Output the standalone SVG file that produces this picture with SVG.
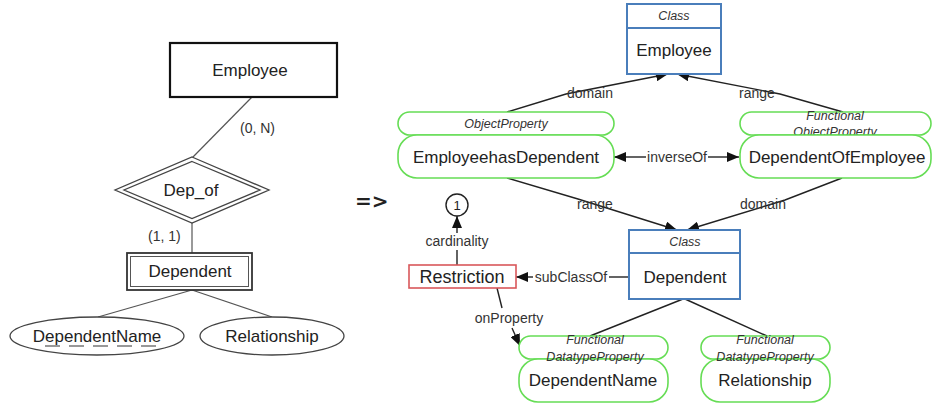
<svg xmlns="http://www.w3.org/2000/svg" width="933" height="408" viewBox="0 0 933 408">
  <style>
    text { font-family: "Liberation Sans", Arial, sans-serif; fill: #222; }
    .big { font-size: 17px; text-anchor: middle; dominant-baseline: central; }
    .card { font-size: 14px; fill: #333; dominant-baseline: central; }
    .lbl { font-size: 14px; fill: #333; text-anchor: middle; dominant-baseline: central; }
    .type { font-size: 12.5px; font-style: italic; text-anchor: middle; dominant-baseline: central; fill: #333; }
    .er { fill: #fff; stroke: #444; stroke-width: 1.3; }
    .erl { fill: none; stroke: #555; stroke-width: 1.2; }
    .cls { fill: #fff; stroke: #4a7ebb; stroke-width: 2; }
    .prop { fill: #fff; stroke: #66dd55; stroke-width: 1.6; }
    .restr { fill: #fff; stroke: #d9575a; stroke-width: 1.6; }
    .edge { fill: none; stroke: #222; stroke-width: 1.4; }
    .edge-end { marker-end: url(#arrow); }
  </style>
  <defs>
    <marker id="arrow" viewBox="0 0 12 10" refX="12" refY="5" markerWidth="12" markerHeight="10" markerUnits="userSpaceOnUse" orient="auto">
      <path d="M0,0 L12,5 L0,10 z" fill="#111"/>
    </marker>
    <marker id="arrow-start" viewBox="0 0 12 10" refX="0" refY="5" markerWidth="12" markerHeight="10" markerUnits="userSpaceOnUse" orient="auto">
      <path d="M12,0 L0,5 L12,10 z" fill="#111"/>
    </marker>
  </defs>

  <!-- ER model -->
  <g id="er-connectors">
    <line class="erl" x1="252" y1="97" x2="192" y2="158"/>
    <line class="erl" x1="192" y1="222" x2="192" y2="253"/>
    <line class="erl" x1="192" y1="290" x2="98" y2="317"/>
    <line class="erl" x1="192" y1="290" x2="272" y2="317"/>
    <text class="card" x="240" y="128">(0, N)</text>
    <text class="card" x="148" y="236">(1, 1)</text>
  </g>
  <g id="er-employee">
    <rect x="170" y="43" width="167" height="54" fill="#fff" stroke="#111" stroke-width="2.2"/>
    <text class="big" x="250" y="70">Employee</text>
  </g>
  <g id="er-dep-of">
    <polygon class="er" points="192,157 269,190 192,223 115,190"/>
    <polygon class="er" points="192,161.5 260,190 192,218.5 124,190"/>
    <text class="big" x="191" y="190">Dep_of</text>
  </g>
  <g id="er-dependent">
    <rect x="127" y="253" width="125" height="37" fill="#fff" stroke="#333" stroke-width="1.8"/>
    <rect x="130.5" y="256.5" width="118" height="30" fill="none" stroke="#555" stroke-width="1"/>
    <text class="big" x="190" y="271">Dependent</text>
  </g>
  <g id="er-dependent-name">
    <ellipse class="er" cx="97" cy="336" rx="87" ry="19"/>
    <text class="big" x="97" y="336">DependentName</text>
    <!-- dashed underline: partial key of the weak entity -->
    <line x1="45" y1="346" x2="156" y2="346" stroke="#333" stroke-width="1.1" stroke-dasharray="15,9"/>
  </g>
  <g id="er-relationship">
    <ellipse class="er" cx="272" cy="336" rx="72" ry="19"/>
    <text class="big" x="272" y="336">Relationship</text>
  </g>

  <text x="355" y="201" font-size="20" font-weight="bold" dominant-baseline="central" style="font-family: 'DejaVu Sans', sans-serif; fill:#222">=&gt;</text>

  <!-- Ontology model: connectors -->
  <g id="onto-connectors">
    <polyline class="edge edge-end" points="507,112 566,94 668,74"/>
    <polyline class="edge edge-end" points="843,112 780,94 677,74"/>
    <line class="edge" x1="614" y1="157" x2="646" y2="157" marker-start="url(#arrow-start)"/>
    <line class="edge edge-end" x1="708" y1="157" x2="739" y2="157"/>
    <polyline class="edge edge-end" points="507,178 578,199 677,230"/>
    <polyline class="edge edge-end" points="842,178 785,200 687,230"/>
    <line class="edge" x1="629" y1="277" x2="609" y2="277"/>
    <line class="edge edge-end" x1="533" y1="277" x2="516" y2="277"/>
    <line class="edge" x1="457" y1="265" x2="457" y2="250"/>
    <line class="edge edge-end" x1="457" y1="233" x2="457" y2="216"/>
    <line class="edge" x1="497" y1="288" x2="502" y2="308"/>
    <line class="edge edge-end" x1="512" y1="328" x2="520" y2="346"/>
    <line class="edge" x1="683" y1="299" x2="590" y2="336"/>
    <line class="edge" x1="685" y1="299" x2="767" y2="336"/>
    <text class="lbl" x="590" y="93">domain</text>
    <text class="lbl" x="757" y="93">range</text>
    <text class="lbl" x="677" y="157">inverseOf</text>
    <text class="lbl" x="595" y="204">range</text>
    <text class="lbl" x="763" y="204">domain</text>
    <text class="lbl" x="571" y="277">subClassOf</text>
    <text class="lbl" x="457" y="241">cardinality</text>
    <text class="lbl" x="509" y="318">onProperty</text>
  </g>

  <g id="class-employee">
    <rect class="cls" x="627" y="4" width="94" height="70"/>
    <line x1="627" y1="28" x2="721" y2="28" stroke="#4a7ebb" stroke-width="2"/>
    <text class="type" x="674" y="16">Class</text>
    <text class="big" x="674" y="50">Employee</text>
  </g>

  <g id="prop-employee-has-dependent">
    <rect class="prop" x="398" y="112" width="216" height="23" rx="11.5"/>
    <text class="type" x="506" y="124">ObjectProperty</text>
    <rect class="prop" x="398" y="135" width="216" height="43" rx="19"/>
    <text class="big" x="506" y="157">EmployeehasDependent</text>
  </g>

  <g id="prop-dependent-of-employee">
    <rect class="prop" x="740" y="112" width="191" height="23" rx="11.5"/>
    <text class="type" x="835" y="116">Functional</text>
    <text class="type" x="835" y="132">ObjectProperty</text>
    <rect class="prop" x="740" y="135" width="191" height="43" rx="19"/>
    <text class="big" x="837" y="157">DependentOfEmployee</text>
  </g>

  <g id="class-dependent">
    <rect class="cls" x="629" y="230" width="111" height="69"/>
    <line x1="629" y1="253" x2="740" y2="253" stroke="#4a7ebb" stroke-width="2"/>
    <text class="type" x="685" y="242">Class</text>
    <text class="big" x="685" y="277">Dependent</text>
  </g>

  <g id="restriction">
    <rect class="restr" x="409" y="265" width="107" height="23"/>
    <text class="big" x="462" y="277" style="font-size:18px">Restriction</text>
  </g>

  <g id="cardinality-value">
    <circle cx="457" cy="205" r="11" fill="#fff" stroke="#222" stroke-width="1.4"/>
    <text x="457" y="205" font-size="13" text-anchor="middle" dominant-baseline="central">1</text>
  </g>

  <g id="prop-dependent-name">
    <rect class="prop" x="519" y="336" width="149" height="23" rx="11.5"/>
    <rect class="prop" x="519" y="359" width="149" height="43" rx="19"/>
    <text class="type" x="595" y="340">Functional</text>
    <text class="type" x="595" y="357">DatatypeProperty</text>
    <text class="big" x="593" y="380">DependentName</text>
  </g>

  <g id="prop-relationship">
    <rect class="prop" x="701" y="336" width="129" height="23" rx="11.5"/>
    <rect class="prop" x="701" y="359" width="129" height="43" rx="19"/>
    <text class="type" x="765" y="340">Functional</text>
    <text class="type" x="765" y="357">DatatypeProperty</text>
    <text class="big" x="765" y="380">Relationship</text>
  </g>
</svg>
